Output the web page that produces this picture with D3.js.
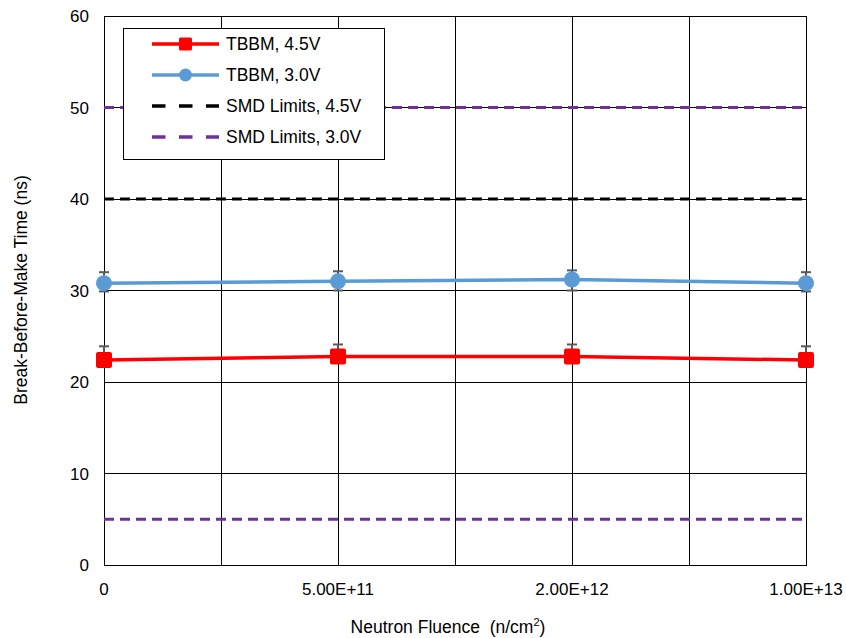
<!DOCTYPE html>
<html><head><meta charset="utf-8">
<script src="https://cdn.jsdelivr.net/npm/d3@7"></script>
<style>body{margin:0;background:#fff}svg{display:block}text{font-family:"Liberation Sans",Arial,sans-serif;fill:#000;white-space:pre}</style>
</head><body>
<svg id="c" width="846" height="638"></svg>
<script>
const categories = ["0", "5.00E+11", "2.00E+12", "1.00E+13"];
const tbbm45 = [22.4, 22.8, 22.8, 22.4];
const tbbm45ErrPlus = [1.5, 1.3, 1.3, 1.5];
const tbbm45ErrMinus = [0, 0, 0, 0];
const tbbm30 = [30.8, 31.0, 31.2, 30.8];
const tbbm30ErrPlus = [1.2, 1.1, 1.0, 1.2];
const tbbm30ErrMinus = [0.9, 1.0, 1.2, 0.9];
const smd45 = 40;
const smd30 = [50, 5];
const yTicks = [0, 10, 20, 30, 40, 50, 60];
const seriesNames = ["TBBM, 4.5V", "TBBM, 3.0V", "SMD Limits, 4.5V", "SMD Limits, 3.0V"];

const svg = d3.select("#c");
const L = 104, R = 806, T = 16, B = 565;
const x = d3.scalePoint().domain(categories).range([L, R]).padding(0);
const y = d3.scaleLinear().domain([0, 60]).range([B, T]);
const step = x.step();

// gridlines
const g = svg.append("g");
yTicks.forEach(v => g.append("line").attr("x1", L).attr("x2", R).attr("y1", y(v)).attr("y2", y(v)).attr("stroke", "#000").attr("stroke-width", 1).attr("shape-rendering","crispEdges"));
const vx = [];
categories.forEach((c, i) => { vx.push(x(c)); if (i < categories.length - 1) vx.push(x(c) + step / 2); });
vx.forEach(px => g.append("line").attr("x1", px).attr("x2", px).attr("y1", T).attr("y2", B).attr("stroke", "#000").attr("stroke-width", 1).attr("shape-rendering","crispEdges"));
svg.append("rect").attr("x", L).attr("y", T).attr("width", R - L).attr("height", B - T).attr("fill", "none").attr("stroke", "#000").attr("stroke-width", 1).attr("shape-rendering","crispEdges");

// y tick labels
yTicks.forEach(v => svg.append("text").attr("x", 89).attr("y", y(v) + 6).attr("text-anchor", "end").attr("font-size", 17).text(v));
// x tick labels
categories.forEach(c => svg.append("text").attr("x", x(c)).attr("y", 595).attr("text-anchor", "middle").attr("font-size", 17).text(c));

// axis titles
svg.append("text").attr("transform", `translate(27,290) rotate(-90)`).attr("text-anchor", "middle").attr("font-size", 17.5).text("Break-Before-Make Time (ns)");
const xt = svg.append("text").attr("x", 448).attr("y", 633).attr("text-anchor", "middle").attr("font-size", 17.5);
xt.append("tspan").text("Neutron Fluence\u00A0\u00A0(n/cm");
xt.append("tspan").attr("dy", -7).attr("font-size", 11).text("2");
xt.append("tspan").attr("dy", 7).text(")");

// dashed limits
const dash = "10,6";
svg.append("line").attr("x1", L).attr("x2", R).attr("y1", y(smd45)).attr("y2", y(smd45)).attr("stroke", "#000").attr("stroke-width", 3).attr("stroke-dasharray", dash);
smd30.forEach(v => svg.append("line").attr("x1", L).attr("x2", R).attr("y1", y(v)).attr("y2", y(v)).attr("stroke", "#7030A0").attr("stroke-width", 3).attr("stroke-dasharray", dash));

const line = d3.line().x((d, i) => x(categories[i])).y(d => y(d));

function errBars(vals, plus, minus) {
  vals.forEach((v, i) => {
    const cx = x(categories[i]);
    const eg = svg.append("g").attr("stroke", "#595959").attr("stroke-width", 2);
    if (plus[i] > 0) {
      eg.append("line").attr("x1", cx).attr("x2", cx).attr("y1", y(v)).attr("y2", y(v + plus[i]));
      eg.append("line").attr("x1", cx - 5).attr("x2", cx + 5).attr("y1", y(v + plus[i])).attr("y2", y(v + plus[i]));
    }
    if (minus[i] > 0) {
      eg.append("line").attr("x1", cx).attr("x2", cx).attr("y1", y(v)).attr("y2", y(v - minus[i]));
      eg.append("line").attr("x1", cx - 5).attr("x2", cx + 5).attr("y1", y(v - minus[i])).attr("y2", y(v - minus[i]));
    }
  });
}

// blue series
errBars(tbbm30, tbbm30ErrPlus, tbbm30ErrMinus);
svg.append("path").datum(tbbm30).attr("d", line).attr("fill", "none").attr("stroke", "#5B9BD5").attr("stroke-width", 3.5);
tbbm30.forEach((v, i) => svg.append("circle").attr("cx", x(categories[i])).attr("cy", y(v)).attr("r", 8).attr("fill", "#5B9BD5"));

// red series
errBars(tbbm45, tbbm45ErrPlus, tbbm45ErrMinus);
svg.append("path").datum(tbbm45).attr("d", line).attr("fill", "none").attr("stroke", "#FF0000").attr("stroke-width", 3.5);
tbbm45.forEach((v, i) => svg.append("rect").attr("x", x(categories[i]) - 8).attr("y", y(v) - 8).attr("width", 16).attr("height", 16).attr("rx", 2).attr("fill", "#FF0000"));

// legend
const lg = svg.append("g");
lg.append("rect").attr("x", 123.5).attr("y", 28.5).attr("width", 261).attr("height", 131).attr("fill", "#fff").attr("stroke", "#000").attr("stroke-width", 1);
const rowsY = [44, 75, 106, 137];
const lx1 = 152, lx2 = 219, lmid = (lx1 + lx2) / 2;
// row 0
lg.append("line").attr("x1", lx1).attr("x2", lx2).attr("y1", rowsY[0]).attr("y2", rowsY[0]).attr("stroke", "#FF0000").attr("stroke-width", 3.5);
lg.append("rect").attr("x", lmid - 6.5).attr("y", rowsY[0] - 6.5).attr("width", 13).attr("height", 13).attr("rx", 1.5).attr("fill", "#FF0000");
// row 1
lg.append("line").attr("x1", lx1).attr("x2", lx2).attr("y1", rowsY[1]).attr("y2", rowsY[1]).attr("stroke", "#5B9BD5").attr("stroke-width", 3.5);
lg.append("circle").attr("cx", lmid).attr("cy", rowsY[1]).attr("r", 6.5).attr("fill", "#5B9BD5");
// rows 2,3
lg.append("line").attr("x1", lx1).attr("x2", lx2).attr("y1", rowsY[2]).attr("y2", rowsY[2]).attr("stroke", "#000").attr("stroke-width", 3.5).attr("stroke-dasharray", "13.5,13.5");
lg.append("line").attr("x1", lx1).attr("x2", lx2).attr("y1", rowsY[3]).attr("y2", rowsY[3]).attr("stroke", "#7030A0").attr("stroke-width", 3.5).attr("stroke-dasharray", "13.5,13.5");
seriesNames.forEach((n, i) => lg.append("text").attr("x", 226).attr("y", rowsY[i] + 6).attr("font-size", 17.5).text(n));
</script>
</body></html>
